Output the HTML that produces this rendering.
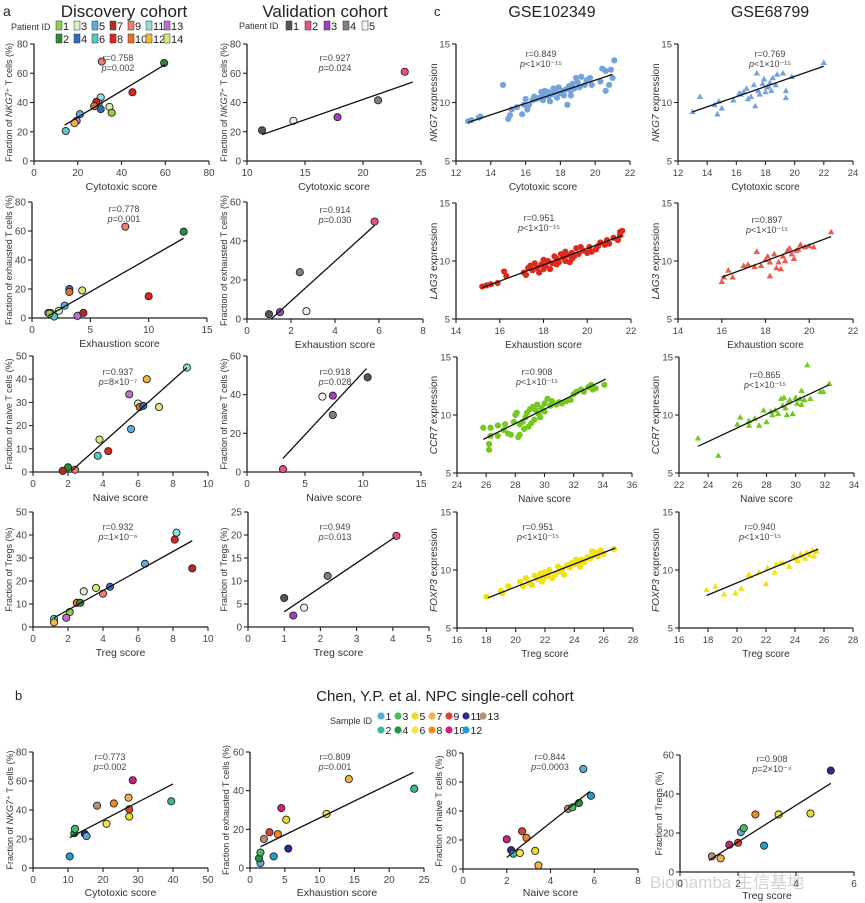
<!DOCTYPE html>
<html><head><meta charset="utf-8"><style>
body{margin:0;background:#fff}
svg{display:block;font-family:"Liberation Sans",Arial,sans-serif}
</style></head><body>
<svg id="fig" width="865" height="903" viewBox="0 0 865 903" xmlns="http://www.w3.org/2000/svg">
<text x="3" y="16" font-size="14" fill="#222">a</text>
<text x="124" y="17" font-size="17" text-anchor="middle" fill="#222">Discovery cohort</text>
<text x="325" y="17" font-size="17" text-anchor="middle" fill="#222">Validation cohort</text>
<text x="434" y="16" font-size="13" fill="#222">c</text>
<text x="552" y="17" font-size="16" text-anchor="middle" fill="#222">GSE102349</text>
<text x="770" y="17" font-size="16" text-anchor="middle" fill="#222">GSE68799</text>
<text x="15" y="700" font-size="13" fill="#222">b</text>
<text x="445" y="701" font-size="15" text-anchor="middle" fill="#222">Chen, Y.P. et al. NPC single-cell cohort</text>
<text x="372" y="724" font-size="9" text-anchor="end" fill="#333">Sample ID</text>
<text x="11" y="30" font-size="9" fill="#333">Patient ID</text>
<text x="239" y="29" font-size="9" fill="#333">Patient ID</text>
<text x="650" y="888" font-size="17" fill="#c8c8c8" opacity="0.8">Biomamba 生信基地</text>
<g id="legends"></g>
<g id="panels"></g>
</svg>
<script>
// ---------- data ----------
const discColors=["#8fd13f","#2e8b3a","#d6efc6","#2f6cbf","#5aaee0","#5cc8bd","#b52a25","#e0261c","#f07d6b","#e8701e","#8fe0dc","#f4b73a","#c06ed0","#d6e87a"];
const discIds=["1","2","3","4","5","6","7","8","9","10","11","12","13","14"];
const valColors=["#555555","#e8508a","#a040c0","#808080","#f2f2f2"];
const valIds=["1","2","3","4","5"];
const npcColors=["#5aa9d8","#3cb8a0","#4cbb60","#1a9a40","#e8e020","#f2e44a","#f2b448","#f08a20","#e04030","#d0207a","#2a2a90","#20a0c8","#b89070"];
const npcIds=["1","2","3","4","5","6","7","8","9","10","11","12","13"];

// points: [x, y, colorIndex]
const a1Points=[[31,68,8],[59.5,67,1],[45,47,7],[30.5,43.5,10],[29.5,39.5,13],[28.5,40.5,6],[27.5,37.5,9],[34.5,37,2],[35.5,33,0],[30.5,35.5,3],[21,32,4],[19.5,27.5,12],[18.5,26,11],[14.5,20.5,5]];
const a1Line=[[14,24.5],[60,66]];
const a2Points=[[8,63,8],[13,59.5,1],[10,15,7],[3.2,20,3],[3.2,18,9],[4.3,19,13],[2.8,8.5,4],[2.3,5,2],[1.4,3.5,10],[1.6,3.5,11],[1.9,1,5],[3.9,1.5,12],[4.4,3.5,6],[1.5,3,0]];
const a2Line=[[1.4,1.5],[13,55]];
const a3Points=[[8.8,45,10],[6.5,40,11],[5.5,33.5,12],[6,29.5,2],[6.1,28,9],[6.3,28.5,3],[7.2,28,13],[5.6,18.5,4],[3.8,14,13],[3.7,7,5],[4.3,9,7],[2,2,1],[1.7,0.5,6],[2.4,1,8]];
const a3Line=[[2.2,0.5],[8.8,45]];
const a4Points=[[8.2,41,10],[8.1,38,7],[9.1,25.5,6],[6.4,27.5,4],[4.4,17.5,3],[4,14.5,8],[3.6,17,13],[2.9,15.5,2],[2.5,10.5,9],[2.7,10.5,1],[2.1,6.5,0],[1.9,4,12],[1.2,3.5,5],[1.2,2,11]];
const a4Line=[[1.2,4],[9.1,37.5]];
const v1Points=[[11.3,21,0],[14,27.5,4],[17.8,30,2],[21.3,41.5,3],[23.6,61,1]];
const v1Line=[[11.3,18],[24.3,54]];
const v2Points=[[1,2.5,0],[1.5,3.5,2],[2.4,24,3],[2.7,4,4],[5.8,50,1]];
const v2Line=[[1.1,0],[5.8,48]];
const v3Points=[[3.1,1.5,1],[6.5,39,4],[7.4,39.5,2],[7.4,29.5,3],[10.4,49,0]];
const v3Line=[[3.1,7],[10.3,53.5]];
const v4Points=[[1,6.3,0],[1.25,2.5,2],[1.55,4.2,4],[2.2,11.1,3],[4.1,19.8,1]];
const v4Line=[[1,3.3],[4.05,19.5]];
const c1Points=[[12.7,8.4],[12.9,8.5],[13.3,8.7],[13.4,8.8],[14.7,11.5],[15,8.6],[15.1,8.9],[15.2,9.4],[15.5,9.6],[15.8,9.0],[15.9,9.8],[16,10.3],[16.1,9.4],[16.2,9.8],[16.4,10.2],[16.6,10.3],[16.8,10.4],[16.9,10.9],[17,10.6],[17,10.2],[17.1,11],[17.2,10.8],[17.3,10.5],[17.4,10.1],[17.5,10.7],[17.6,11.2],[17.7,10.9],[17.8,10.4],[17.9,11.3],[18,10.8],[18.1,11],[18.2,10.6],[18.3,11.1],[18.4,9.8],[18.5,11.4],[18.6,11],[18.7,11.6],[18.8,11.2],[18.9,12.1],[19,11.7],[19.2,12.2],[19.4,11.5],[19.5,11.9],[19.7,12.1],[19.8,11.5],[20.3,11.8],[20.4,12.9],[20.6,12.7],[20.6,11.0],[20.8,11.5],[20.9,12.8],[21.1,13.6],[21.0,12.1],[16.5,10.5],[17.3,10.9],[18.6,10.6],[19.1,11.3]];
const c1Line=[[12.7,8.3],[21,12.4]];
const c2Points=[[13,9.2],[13.5,10.5],[14.5,9.8],[14.7,9.0],[14.8,10.1],[15,9.5],[15.8,10.2],[16.2,10.8],[16.5,10.9],[16.7,11.2],[16.8,10.3],[17,10.5],[17.2,11.5],[17.3,9.7],[17.4,12.5],[17.5,11.0],[17.6,10.7],[17.8,11.6],[17.9,12],[18,10.9],[18.1,11.3],[18.3,11.7],[18.4,11.0],[18.5,12.1],[18.7,11.5],[18.8,12.4],[19.2,12.5],[19.4,10.4],[19.4,11.0],[19.8,12.2],[22,13.4],[16.3,10.7],[18.2,11.4]];
const c2Line=[[13,9.2],[22,13.1]];
const c3Points=[[15.2,7.8],[15.4,7.9],[15.6,8.0],[15.9,8.1],[16.2,9.1],[16.3,8.7],[17.1,9.0],[17.2,8.8],[17.3,9.4],[17.4,9.6],[17.5,9.2],[17.6,9.8],[17.7,9.4],[17.8,9.0],[17.9,9.7],[18,10.1],[18,9.3],[18.1,9.6],[18.2,10.0],[18.3,9.3],[18.4,9.8],[18.5,10.4],[18.6,10.2],[18.7,9.9],[18.8,10.6],[18.9,10.3],[19,10.0],[19,10.8],[19.1,10.5],[19.2,9.9],[19.3,10.7],[19.4,10.4],[19.5,11.1],[19.6,10.6],[19.8,10.9],[20,10.7],[20.1,11.2],[20.2,10.8],[20.4,11.0],[20.5,11.3],[20.6,11.6],[20.8,11.4],[20.9,11.8],[21,11.5],[21.2,12.0],[21.4,11.8],[21.5,12.5],[21.6,12.6],[21.5,12.2],[19.7,11.2],[18.6,9.7],[19.3,10.2]];
const c3Line=[[15.2,7.7],[21.6,12.2]];
const c4Points=[[16,8.2],[16.1,8.6],[16.3,9.2],[16.5,8.6],[17,9.6],[17.2,9.7],[17.5,9.5],[17.6,10.8],[17.8,9.6],[18,10.1],[18.1,10.4],[18.2,9.9],[18.2,8.7],[18.4,10.6],[18.5,9.4],[18.6,9.9],[18.7,9.3],[18.8,10.4],[19,10.9],[19.1,11.1],[19.2,10.6],[19.3,10.2],[19.4,10.9],[19.6,11.4],[19.8,11.2],[20,11.3],[20.2,11.2],[21,12.5],[19.5,11.0],[18.9,10.0]];
const c4Line=[[16,8.6],[21,12.1]];
const c5Points=[[25.8,8.9],[26.2,7.0],[26.2,7.5],[26.3,8.2],[26.3,8.9],[26.8,9.1],[26.8,8.2],[27.2,8.7],[27.5,8.4],[27.7,8.3],[27.9,9.4],[28,10.0],[28.1,10.2],[28.2,8.1],[28.3,8.3],[28.3,9.2],[28.5,9.4],[28.6,8.8],[28.7,9.8],[28.8,10.2],[28.9,9.0],[29,10.5],[29.1,9.3],[29.2,10.7],[29.3,9.6],[29.4,10.4],[29.5,10.9],[29.6,10.1],[29.8,10.6],[30,11.0],[30,10.3],[30.2,11.4],[30.4,10.8],[30.5,11.2],[30.8,10.9],[31,11.1],[31.2,11.0],[31.5,11.2],[31.8,11.3],[32,11.8],[32.2,12.0],[32.5,12.2],[32.7,12.0],[33,12.4],[33.2,12.6],[33.3,12.2],[33.5,12.3],[34.1,12.6],[27.3,9.2],[29.7,9.8]];
const c5Line=[[25.8,7.9],[34.2,13.1]];
const c6Points=[[23.3,8.0],[24.7,6.5],[26,9.2],[26.2,9.8],[26.8,9.5],[26.8,9.1],[27.2,9.7],[27.5,9.1],[27.8,10.4],[28,9.4],[28.3,10.3],[28.4,10.0],[28.6,10.4],[28.8,10.1],[29,11.4],[29.1,10.8],[29.2,11.5],[29.3,10.6],[29.4,10.0],[29.6,11.3],[29.8,10.1],[30,11.5],[30.1,11.0],[30.3,11.4],[30.4,10.9],[30.6,11.3],[30.8,14.3],[31,11.4],[31.7,12.0],[31.9,12.0],[32.3,12.7],[29.5,11.1],[30.4,12.1]];
const c6Line=[[23.3,7.3],[32.3,12.6]];
const c7Points=[[18,7.7],[19,8.2],[19.1,8.0],[19.5,8.6],[20.3,9.0],[20.5,8.6],[20.7,9.3],[20.9,8.9],[21.1,8.7],[21.3,9.5],[21.5,9.2],[21.7,9.7],[21.8,9.0],[22,9.8],[22.2,9.5],[22.3,10.0],[22.5,9.3],[22.7,9.6],[22.9,10.3],[23,9.9],[23.2,10.1],[23.3,9.6],[23.5,10.4],[23.7,10.2],[23.8,10.6],[24,10.5],[24.1,10.9],[24.3,10.6],[24.5,10.9],[24.7,10.7],[24.9,11.1],[25.1,11.0],[25.3,11.3],[25.5,11.5],[25.6,11.2],[25.8,11.7],[26,11.4],[26.7,11.8],[21.9,9.3],[24.4,10.3],[25.2,11.6]];
const c7Line=[[18.1,7.6],[26.8,11.9]];
const c8Points=[[17.9,8.3],[18.5,8.6],[19.1,7.9],[19.9,8.0],[20.3,8.4],[20.8,9.6],[20.9,9.5],[21.5,9.8],[22,8.8],[22.1,10.2],[22.6,9.8],[22.7,10.5],[23,10.6],[23.2,10.6],[23.6,10.3],[23.9,11.2],[24.1,11.0],[24.2,10.8],[24.4,11.4],[24.5,11.2],[24.7,11.0],[24.8,11.5],[25,11.3],[25.2,11.7],[25.3,11.2],[25.5,11.6]];
const c8Line=[[17.9,7.8],[25.6,11.8]];
const b1Points=[[10.5,8,11],[11.8,24,3],[12,27,2],[14.8,23.5,10],[15.3,22,0],[18.3,43,12],[21,30.5,5],[23.1,44.5,7],[27.3,48.5,6],[27.5,40.5,8],[27.5,35.5,4],[28.5,60.5,9],[39.5,46,1]];
const b1Line=[[10.5,21],[40,58]];
const b2Points=[[1.5,2.5,0],[1.3,5,3],[1.5,8,2],[2,15,12],[2.8,18.5,8],[3.4,6,11],[4,17.5,7],[4.5,31,9],[5.2,25,4],[5.5,10,10],[11,28,5],[14.2,46,6],[23.6,41,1]];
const b2Line=[[1.5,11],[23.5,49.5]];
const b3Points=[[2,20.5,9],[2.2,13,10],[2.3,10.5,1],[2.6,11,5],[2.7,26,8],[2.9,21.5,7],[3.3,12.5,4],[3.45,2.5,6],[4.8,41.5,12],[5,42.5,2],[5.3,45.5,3],[5.5,69,0],[5.85,50.5,11]];
const b3Line=[[2,8],[5.8,53.5]];
const b4Points=[[1.1,8,12],[1.4,7,6],[1.7,14,9],[2,15,8],[2.1,20.5,0],[2.2,22.5,2],[2.6,29.5,7],[2.9,13.5,11],[3.4,29.5,5],[4.5,30,4],[5.2,52,10]];
const b4Line=[[1,6],[5.2,45.5]];

// ---------- layout (pixels) ----------
const NS="http://www.w3.org/2000/svg";
function mk(tag,attrs,parent){const e=document.createElementNS(NS,tag);for(const k in attrs)e.setAttribute(k,attrs[k]);parent.appendChild(e);return e;}
const P=document.getElementById('panels');
const panels=[
 {id:'a1',pts:a1Points,ln:a1Line,pal:discColors,L:34,R:209,B:161,T:44,xr:[0,80],xs:20,yr:[0,80],ys:20,xl:'Cytotoxic score',yl:['Fraction of ','NKG7','⁺ T cells (%)'],r:'r=0.758',p:'=0.002',ax:118,ay:61,ylx:8},
 {id:'a2',pts:a2Points,ln:a2Line,pal:discColors,L:32,R:207,B:318,T:202,xr:[0,15],xs:5,yr:[0,80],ys:20,xl:'Exhaustion score',yl:['Fraction of exhausted T cells (%)'],r:'r=0.778',p:'=0.001',ax:124,ay:212,ylx:8},
 {id:'a3',pts:a3Points,ln:a3Line,pal:discColors,L:33,R:208,B:472,T:356,xr:[0,10],xs:2,yr:[0,50],ys:10,xl:'Naive score',yl:['Fraction of naive T cells (%)'],r:'r=0.937',p:'=8×10⁻⁷',ax:118,ay:375,ylx:8},
 {id:'a4',pts:a4Points,ln:a4Line,pal:discColors,L:33,R:208,B:627,T:512,xr:[0,10],xs:2,yr:[0,50],ys:10,xl:'Treg score',yl:['Fraction of Tregs (%)'],r:'r=0.932',p:'=1×10⁻⁶',ax:118,ay:530,ylx:8},
 {id:'v1',pts:v1Points,ln:v1Line,pal:valColors,L:247,R:421,B:161,T:44,xr:[10,25],xs:5,yr:[0,80],ys:20,xl:'Cytotoxic score',yl:['Fraction of ','NKG7','⁺ T cells (%)'],r:'r=0.927',p:'=0.024',ax:335,ay:61,ylx:223},
 {id:'v2',pts:v2Points,ln:v2Line,pal:valColors,L:247,R:423,B:319,T:202,xr:[0,8],xs:2,yr:[0,60],ys:20,xl:'Exhaustion score',yl:['Fraction of exhausted T cells (%)'],r:'r=0.914',p:'=0.030',ax:335,ay:213,ylx:223},
 {id:'v3',pts:v3Points,ln:v3Line,pal:valColors,L:247,R:421,B:472,T:356,xr:[0,15],xs:5,yr:[0,60],ys:20,xl:'Naive score',yl:['Fraction of naive T cells (%)'],r:'r=0.918',p:'=0.028',ax:335,ay:375,ylx:223},
 {id:'v4',pts:v4Points,ln:v4Line,pal:valColors,L:248,R:429,B:627,T:512,xr:[0,5],xs:1,yr:[0,25],ys:5,xl:'Treg score',yl:['Fraction of Tregs (%)'],r:'r=0.949',p:'=0.013',ax:335,ay:530,ylx:223},
 {id:'c1',pts:c1Points,ln:c1Line,col:'#74a3dc',tri:false,L:456,R:630,B:161,T:44,xr:[12,22],xs:2,yr:[5,15],ys:5,xl:'Cytotoxic score',yl:['','NKG7',' expression'],r:'r=0.849',p:'<1×10⁻¹⁵',ax:541,ay:57,ylx:433},
 {id:'c2',pts:c2Points,ln:c2Line,col:'#74a3dc',tri:true,L:678,R:853,B:161,T:44,xr:[12,24],xs:2,yr:[5,15],ys:5,xl:'Cytotoxic score',yl:['','NKG7',' expression'],r:'r=0.769',p:'<1×10⁻¹⁵',ax:770,ay:57,ylx:655},
 {id:'c3',pts:c3Points,ln:c3Line,col:'#e0281c',tri:false,L:456,R:631,B:319,T:203,xr:[14,22],xs:2,yr:[5,15],ys:5,xl:'Exhaustion score',yl:['','LAG3',' expression'],r:'r=0.951',p:'<1×10⁻¹⁵',ax:539,ay:221,ylx:433},
 {id:'c4',pts:c4Points,ln:c4Line,col:'#ec5a4c',tri:true,L:678,R:853,B:319,T:203,xr:[14,22],xs:2,yr:[5,15],ys:5,xl:'Exhaustion score',yl:['','LAG3',' expression'],r:'r=0.897',p:'<1×10⁻¹⁵',ax:767,ay:223,ylx:655},
 {id:'c5',pts:c5Points,ln:c5Line,col:'#74c81e',tri:false,L:457,R:632,B:473,T:357,xr:[24,36],xs:2,yr:[5,15],ys:5,xl:'Naive score',yl:['','CCR7',' expression'],r:'r=0.908',p:'<1×10⁻¹⁵',ax:537,ay:375,ylx:433},
 {id:'c6',pts:c6Points,ln:c6Line,col:'#74c81e',tri:true,L:679,R:854,B:473,T:357,xr:[22,34],xs:2,yr:[5,15],ys:5,xl:'Naive score',yl:['','CCR7',' expression'],r:'r=0.865',p:'<1×10⁻¹⁵',ax:765,ay:378,ylx:655},
 {id:'c7',pts:c7Points,ln:c7Line,col:'#f2e010',tri:false,L:457,R:633,B:628,T:512,xr:[16,28],xs:2,yr:[5,15],ys:5,xl:'Treg score',yl:['','FOXP3',' expression'],r:'r=0.951',p:'<1×10⁻¹⁵',ax:538,ay:530,ylx:433},
 {id:'c8',pts:c8Points,ln:c8Line,col:'#f2e010',tri:true,L:679,R:853,B:628,T:512,xr:[16,28],xs:2,yr:[5,15],ys:5,xl:'Treg score',yl:['','FOXP3',' expression'],r:'r=0.940',p:'<1×10⁻¹⁵',ax:760,ay:530,ylx:655},
 {id:'b1',pts:b1Points,ln:b1Line,pal:npcColors,L:33,R:208,B:868,T:752,xr:[0,50],xs:10,yr:[0,80],ys:20,xl:'Cytotoxic score',yl:['Fraction of ','NKG7','⁺ T cells (%)'],r:'r=0.773',p:'=0.002',ax:110,ay:760,ylx:9,bot:896},
 {id:'b2',pts:b2Points,ln:b2Line,pal:npcColors,L:250,R:424,B:868,T:752,xr:[0,25],xs:5,yr:[0,60],ys:20,xl:'Exhaustion score',yl:['Fraction of exhausted T cells (%)'],r:'r=0.809',p:'=0.001',ax:335,ay:760,ylx:225,bot:896},
 {id:'b3',pts:b3Points,ln:b3Line,pal:npcColors,L:463,R:638,B:869,T:753,xr:[0,8],xs:2,yr:[0,80],ys:20,xl:'Naive score',yl:['Fraction of naive T cells (%)'],r:'r=0.844',p:'=0.0003',ax:550,ay:760,ylx:438,bot:896},
 {id:'b4',pts:b4Points,ln:b4Line,pal:npcColors,L:680,R:854,B:872,T:755,xr:[0,6],xs:2,yr:[0,60],ys:20,xl:'Treg score',yl:['Fraction of Tregs (%)'],r:'r=0.908',p:'=2×10⁻⁴',ax:772,ay:762,ylx:658,bot:899}
];
const isC=id=>id[0]==='c';
panels.forEach(pn=>{
 const g=mk('g',{},P);
 
 
 const sx=v=>pn.L+(v-pn.xr[0])/(pn.xr[1]-pn.xr[0])*(pn.R-pn.L);
 const sy=v=>pn.B-(v-pn.yr[0])/(pn.yr[1]-pn.yr[0])*(pn.B-pn.T);
 const fs=isC(pn.id)?9.5:10;
 const xa=mk('line',{x1:pn.L,y1:pn.B,x2:pn.R,y2:pn.B,stroke:'#222','stroke-width':1.3},g);
  
 const ya=mk('line',{x1:pn.L,y1:pn.B,x2:pn.L,y2:pn.T,stroke:'#222','stroke-width':1.3},g);
  
 for(let v=pn.xr[0];v<=pn.xr[1]+1e-9;v+=pn.xs){
  const x=sx(v); mk('line',{x1:x,y1:pn.B,x2:x,y2:pn.B+4,stroke:'#222','stroke-width':1.1},g);
  const t=mk('text',{x:x,y:pn.B+15,'font-size':fs,'text-anchor':'middle',fill:'#444'},g); t.textContent=String(+v.toFixed(2));
   
 }
 for(let v=pn.yr[0];v<=pn.yr[1]+1e-9;v+=pn.ys){
  const y=sy(v); mk('line',{x1:pn.L-4,y1:y,x2:pn.L,y2:y,stroke:'#222','stroke-width':1.1},g);
  const t=mk('text',{x:pn.L-6,y:y+3.5,'font-size':fs,'text-anchor':'end',fill:'#444'},g); t.textContent=String(v);
   
 }
 const xt=mk('text',{x:(pn.L+pn.R)/2,y:pn.bot||pn.B+29,'font-size':isC(pn.id)?10:10.5,'text-anchor':'middle',fill:'#333'},g); xt.textContent=pn.xl;
  
 const yt=mk('text',{x:0,y:0,'font-size':isC(pn.id)?10:9,'text-anchor':'middle',fill:'#333',transform:`translate(${pn.ylx+4},${(pn.T+pn.B)/2}) rotate(-90)`},g);
  
 pn.yl.forEach((s,i)=>{const ts=mk('tspan',{},yt); if(i===1)ts.setAttribute('font-style','italic'); ts.textContent=s;});
 const maxLen=(pn.B-pn.T)+14;
 if(yt.getComputedTextLength && yt.getComputedTextLength()>maxLen){yt.setAttribute('textLength',maxLen);yt.setAttribute('lengthAdjust','spacingAndGlyphs');}
 pn.pts.forEach(d=>{
  let m;
  if(pn.tri){const x=sx(d[0]),y=sy(d[1]);m=mk('polygon',{points:`${x},${y-3.3} ${x-3.2},${y+2.3} ${x+3.2},${y+2.3}`,fill:pn.col},g);}
  else if(pn.col){m=mk('circle',{cx:sx(d[0]),cy:sy(d[1]),r:3.1,fill:pn.col},g);}
  else {m=mk('circle',{cx:sx(d[0]),cy:sy(d[1]),r:3.6,fill:pn.pal[d[2]],stroke:'#222','stroke-width':0.9},g);}
   
 });
 const fl=mk('line',{x1:sx(pn.ln[0][0]),y1:sy(pn.ln[0][1]),x2:sx(pn.ln[1][0]),y2:sy(pn.ln[1][1]),stroke:'#111','stroke-width':1.3},g);
  
 const rt=mk('text',{x:pn.ax,y:pn.ay,'font-size':9,'text-anchor':'middle',fill:'#444'},g); rt.textContent=pn.r;
  
 const pt=mk('text',{x:pn.ax,y:pn.ay+10,'font-size':9,'text-anchor':'middle',fill:'#444'},g);
  
 const pi=mk('tspan',{'font-style':'italic'},pt); pi.textContent='p'; const pr=mk('tspan',{},pt); pr.textContent=pn.p;
});

// legends
const LG=document.getElementById('legends');
discIds.forEach((id,i)=>{
 const col=Math.floor(i/2), row=i%2, x=56+col*18, y=21+row*13;
 const s=mk('rect',{x:x,y:y,width:6,height:9,fill:discColors[i],stroke:'#333','stroke-width':0.5},LG);
  
 const t=mk('text',{x:x+7,y:y+9,'font-size':11,fill:'#222'},LG); t.textContent=id;
  
});
valIds.forEach((id,i)=>{
 const x=286+i*19, y=21;
 const s=mk('rect',{x:x,y:y,width:6,height:9,fill:valColors[i],stroke:'#333','stroke-width':0.5},LG);
  
 const t=mk('text',{x:x+7,y:y+9,'font-size':11,fill:'#222'},LG); t.textContent=id;
  
});
npcIds.forEach((id,i)=>{
 const col=Math.floor(i/2), row=i%2, x=381+col*17, y=716+row*14;
 const s=mk('circle',{cx:x,cy:y,r:3.6,fill:npcColors[i]},LG);
  
 const t=mk('text',{x:x+4.5,y:y+4,'font-size':10.5,fill:'#222'},LG); t.textContent=id;
  
});
</script>
</body></html>
